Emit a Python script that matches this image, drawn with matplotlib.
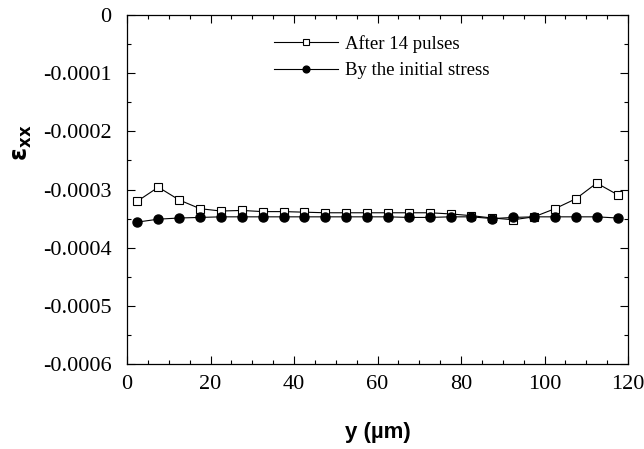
import matplotlib
matplotlib.use("Agg")
import matplotlib.pyplot as plt
from matplotlib.ticker import MultipleLocator

# Positions across the specimen (um)
y_pos = [2.5, 7.5, 12.5, 17.5, 22.5, 27.5, 32.5, 37.5, 42.5, 47.5, 52.5, 57.5,
         62.5, 67.5, 72.5, 77.5, 82.5, 87.5, 92.5, 97.5, 102.5, 107.5, 112.5, 117.5]

# Strain after 14 pulses
eps_pulses = [-0.000320, -0.000296, -0.000318, -0.000333, -0.000337, -0.000336,
              -0.000338, -0.000338, -0.000339, -0.000340, -0.000340, -0.000340,
              -0.000340, -0.000340, -0.000340, -0.000342, -0.000345, -0.000349,
              -0.000352, -0.000347, -0.000333, -0.000316, -0.000289, -0.000309]

# Strain from the initial stress
eps_initial = [-0.000356, -0.000351, -0.000349, -0.000348, -0.000347, -0.000347,
               -0.000347, -0.000347, -0.000347, -0.000347, -0.000347, -0.000347,
               -0.000347, -0.000348, -0.000348, -0.000347, -0.000347, -0.000350,
               -0.000348, -0.000347, -0.000347, -0.000347, -0.000347, -0.000349]

serif = ["Liberation Serif", "DejaVu Serif"]
sans = ["Liberation Sans", "DejaVu Sans"]

fig = plt.figure(figsize=(6.44, 4.49), dpi=100)
ax = fig.add_axes([0.1972, 0.1893, 0.778, 0.7773])

ax.plot(y_pos, eps_pulses, color="black", lw=0.8, marker="s", ms=6,
        mfc="white", mec="black", mew=0.8, label="After 14 pulses")
ax.plot(y_pos, eps_initial, color="black", lw=0.8, marker="o", ms=6.5,
        mfc="black", mec="black", label="By the initial stress")

ax.set_xlim(0, 120)
ax.set_ylim(-0.0006, 0)
ax.xaxis.set_major_locator(MultipleLocator(20))
ax.xaxis.set_minor_locator(MultipleLocator(5))
ax.yaxis.set_major_locator(MultipleLocator(0.0001))
ax.yaxis.set_minor_locator(MultipleLocator(0.00005))
ax.yaxis.set_major_formatter(plt.FuncFormatter(
    lambda v, p: "0" if abs(v) < 1e-12 else f"{v:.4f}"))

ax.tick_params(which="both", direction="in", top=True, right=True, width=0.8)
ax.tick_params(which="major", length=6)
ax.tick_params(axis="x", which="major", pad=8)
ax.tick_params(axis="y", which="major", pad=11)
ax.tick_params(which="minor", length=3)
for lab in ax.get_xticklabels() + ax.get_yticklabels():
    lab.set_fontfamily(serif)
    lab.set_fontsize(16)
for s in ax.spines.values():
    s.set_linewidth(0.9)

ax.set_xlabel("y (\u00b5m)", fontfamily=sans, fontweight="bold", fontsize=16)
ax.xaxis.set_label_coords(0.5, -0.166)
ax.set_ylabel(r"$\mathbf{\varepsilon_{xx}}$", fontsize=17)
ax.yaxis.set_label_coords(-0.185, 0.633)

ax.legend(loc="upper left", bbox_to_anchor=(0.278, 0.964), frameon=False,
          prop={"family": serif, "size": 13.5}, handlelength=3.4,
          markerscale=0.75, labelspacing=0.5, handletextpad=0.4,
          borderaxespad=0.0)

fig.savefig("out.png", dpi=100)
